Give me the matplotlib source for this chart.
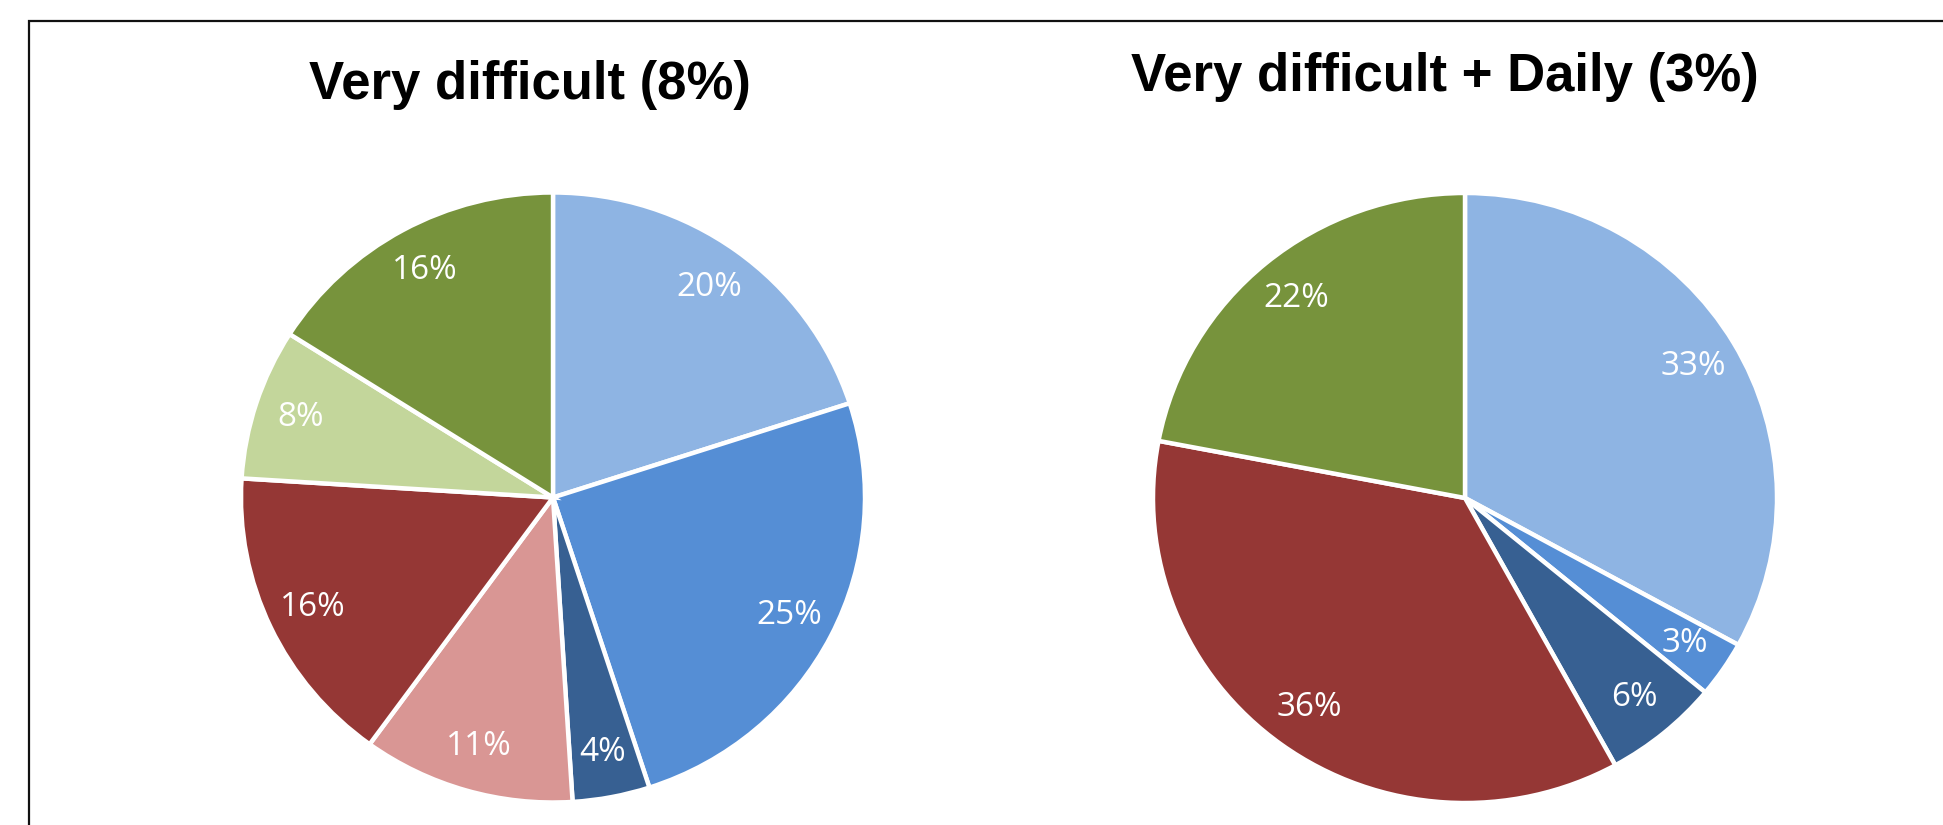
import matplotlib
matplotlib.use("Agg")
import matplotlib.pyplot as plt
from matplotlib.patches import Rectangle

# ── Data ─────────────────────────────────────────────────────────────
LEFT_TITLE = "Very difficult (8%)"
LEFT_VALUES = [20, 25, 4, 11, 16, 8, 16]
LEFT_COLORS = ["#8EB4E3", "#558ED5", "#376092", "#D99694", "#953735", "#C3D69B", "#77933C"]

RIGHT_TITLE = "Very difficult + Daily (3%)"
RIGHT_VALUES = [33, 3, 6, 36, 22]
RIGHT_COLORS = ["#8EB4E3", "#558ED5", "#376092", "#953735", "#77933C"]

W, H = 1943, 825
fig = plt.figure(figsize=(W / 100, H / 100), dpi=100)


def px_axes(cx, cy, rx, ry):
    """Axes box in pixel coords (top-left origin) around an ellipse."""
    return fig.add_axes([(cx - rx) / W, (H - cy - ry) / H, 2 * rx / W, 2 * ry / H])


def draw_pie(ax, values, colors):
    ax.pie(values, colors=colors, startangle=90, counterclock=False,
           autopct="%.0f%%", pctdistance=0.85, radius=1.0,
           wedgeprops=dict(edgecolor="white", linewidth=3.2),
           textprops=dict(color="white", fontsize=24, family="Open Sans"))
    ax.set_aspect("auto")
    ax.set_xlim(-1, 1)
    ax.set_ylim(-1, 1)
    ax.axis("off")


ax1 = px_axes(553, 497.5, 312, 305)
draw_pie(ax1, LEFT_VALUES, LEFT_COLORS)

ax2 = px_axes(1465, 498, 312, 305)
draw_pie(ax2, RIGHT_VALUES, RIGHT_COLORS)

# ── Titles ───────────────────────────────────────────────────────────
fig.text(530 / W, 1 - 99 / H, LEFT_TITLE, ha="center", va="baseline",
         fontsize=38, fontweight="bold", family="Liberation Sans")
fig.text(1445 / W, 1 - 91 / H, RIGHT_TITLE, ha="center", va="baseline",
         fontsize=38, fontweight="bold", family="Liberation Sans")

# ── Frame (open to the right and bottom) ─────────────────────────────
top = 1 - 21 / H
fig.add_artist(Rectangle((29 / W, -0.2), 1.2, top + 0.2,
                         transform=fig.transFigure, fill=False,
                         edgecolor="#111111", linewidth=1.6, clip_on=False))

fig.savefig("out.png", dpi=100)
